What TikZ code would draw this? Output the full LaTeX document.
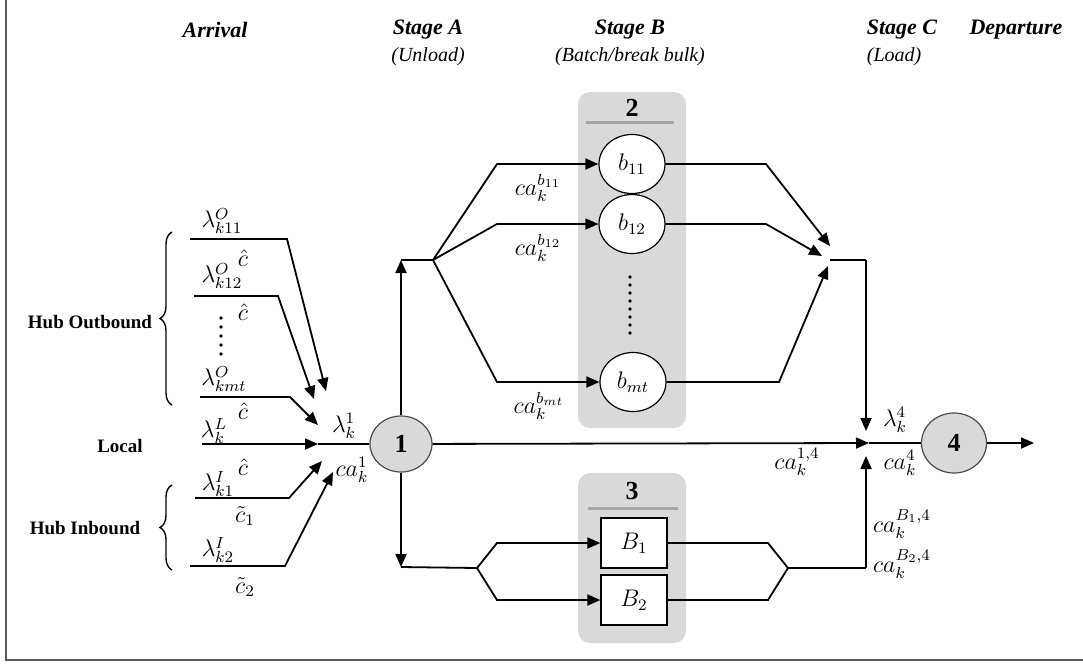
\documentclass[tikz,border=0pt]{standalone}
\usepackage{fontspec}
\setmainfont{Liberation Serif}
\usetikzlibrary{shapes.geometric,arrows.meta,decorations.pathreplacing}
\definecolor{boxgray}{RGB}{217,217,217}
\definecolor{rulegray}{RGB}{166,166,166}
\definecolor{framegray}{RGB}{90,90,90}

\begin{document}
\begin{tikzpicture}[x=0.5pt,y=-0.5pt,line width=0.9pt,
  >={Triangle[length=6.5pt,width=5.5pt]},
  stn/.style={ellipse,draw=black!70,line width=0.6pt,fill=boxgray,minimum width=31pt,
    minimum height=28pt,inner sep=0pt,font=\fontsize{13}{13}\selectfont\bfseries},
  sub/.style={ellipse,draw,line width=0.6pt,fill=white,minimum width=33pt,
    minimum height=29.5pt,inner sep=0pt,font=\large},
  bat/.style={rectangle,draw,line width=0.6pt,fill=white,minimum width=33pt,
    minimum height=25pt,inner sep=0pt,font=\large},
  lab/.style={inner sep=0pt,font=\large},
  head/.style={inner sep=0pt,font=\fontsize{11}{11}\selectfont\bfseries\itshape},
  subhead/.style={inner sep=0pt,font=\fontsize{10}{10}\selectfont\itshape},
  side/.style={inner sep=0pt,font=\fontsize{9.5}{10}\selectfont\bfseries},
  pan/.style={fill=boxgray,rounded corners=6pt},
  brc/.style={decorate,decoration={brace,amplitude=6pt},line width=0.7pt}]
\useasboundingbox (0,0) rectangle (1083,666);
% frame
\draw[framegray,line width=1pt] (6,0) -- (6,660) -- (1083,660);

% headings
\node[head] (harr) at (215,30) {Arrival};
\node[head] (hsa) at (428,30) {Stage A};
\node[subhead] (hsa2) at (428,57) {(Unload)};
\node[head] (hsb) at (630,30) {Stage B};
\node[subhead] (hsb2) at (630,57) {(Batch/break bulk)};
\node[head] (hsc) at (902,30) {Stage C};
\node[subhead,anchor=west] (hsc2) at (866,57) {(Load)};
\node[head] (hdep) at (1016,30) {Departure};

% panels
\fill[pan] (578,92) rectangle (686,428);
\fill[pan] (578,473) rectangle (686,643);
\node[font=\fontsize{13}{13}\selectfont\bfseries] (t2) at (632,108) {2};
\draw[rulegray,line width=1.5pt] (586,122) -- (674,122);
\node[font=\fontsize{13}{13}\selectfont\bfseries] (t3) at (632,491) {3};
\draw[rulegray,line width=1.5pt] (588,508) -- (678,508);
\foreach \yy in {277,285,...,335}
  \fill (630,\yy) circle (0.9pt);

% stations
\node[stn] (n1) at (401,444) {1};
\node[stn,minimum width=32.5pt,minimum height=30pt] (n4) at (954,443) {4};
\node[sub] (b11) at (632,164) {$b_{11}$};
\node[sub] (b12) at (632,224) {$b_{12}$};
\node[sub] (bmt) at (633,382) {$b_{mt}$};
\node[bat] (B1) at (634,543) {$B_1$};
\node[bat] (B2) at (634,600) {$B_2$};

% arrivals
\node[side] (hubo) at (90,322) {Hub Outbound};
\node[side] (loc) at (120,446) {Local};
\node[side] (hubi) at (85,528) {Hub Inbound};
\draw[brc] (172,405) -- (172,232);
\draw[brc] (172,570) -- (172,485);

\node[lab] (lo1) at (222,221) {$\lambda^{O}_{k11}$};
\node[lab] (ch1) at (243,258) {$\hat{c}$};
\node[lab] (lo2) at (222,276) {$\lambda^{O}_{k12}$};
\node[lab] (ch2) at (243,312) {$\hat{c}$};
\foreach \yy in {318,327,...,354}
  \fill (221,\yy) circle (0.9pt);
\node[lab] (lo3) at (224,379) {$\lambda^{O}_{kmt}$};
\node[lab] (ch3) at (243,411) {$\hat{c}$};
\node[lab] (ll) at (214,431) {$\lambda^{L}_{k}$};
\node[lab] (ch4) at (243,467) {$\hat{c}$};
\node[lab] (li1) at (218,484) {$\lambda^{I}_{k1}$};
\node[lab] (ct1) at (245,516) {$\tilde{c}_1$};
\node[lab] (li2) at (218,550) {$\lambda^{I}_{k2}$};
\node[lab] (ct2) at (245,587) {$\tilde{c}_2$};

\foreach \n/\sx/\y/\bx/\tx/\ty in {o1/190/239/287/326/391, o2/194/296/278/314/399,
    o3/200/397/290/318/425, i1/195/498/289/322/461, i2/190/566/285/333/472}{
  \coordinate (s\n) at (\sx,\y);
  \coordinate (t\n) at (\tx,\ty);
  \draw[->] (s\n) -- (\bx,\y) -- (t\n);
}
\coordinate (sl) at (202,444);
\coordinate (tl) at (318,444);
\draw[->] (sl) -- (tl);
\draw (tl) -- (n1);
\node[lab] (l1) at (344,426) {$\lambda^{1}_{k}$};
\node[lab] (ca1) at (352,470) {$ca^{1}_{k}$};

% stage A -> stage B
\coordinate (kb) at (497,0);
\coordinate (a1) at (401,260);
\coordinate (j1) at (433,260);
\draw[->] (n1) -- (a1);
\draw (a1) -- (j1);
\foreach \b in {b11,b12,bmt}
  \draw[->] (j1) -- (\b.west -| kb) -- (\b);
\node[lab] (cb11) at (538,188) {$ca^{b_{11}}_{k}$};
\node[lab] (cb12) at (538,248) {$ca^{b_{12}}_{k}$};
\node[lab] (cbmt) at (539,406) {$ca^{b_{mt}}_{k}$};

\coordinate (a3) at (401,567);
\coordinate (j3) at (477,568);
\draw[->] (n1) -- (a3);
\draw (a3) -- (j3);
\foreach \b in {B1,B2}
  \draw[->] (j3) -- (\b.west -| kb) -- (\b);

% stage B -> stage C
\coordinate (kr1) at (766,0);
\coordinate (kr2) at (779,0);
\coordinate (t11) at (830,246);
\coordinate (t12) at (822,256);
\coordinate (ttm) at (828,266);
\draw[->] (b11) -- (b11.east -| kr1) -- (t11);
\draw[->] (b12) -- (b12.east -| kr1) -- (t12);
\draw[->] (bmt) -- (bmt.east -| kr2) -- (ttm);
\coordinate (j2a) at (830,260);
\coordinate (j2) at (866,260);
\coordinate (c4) at (869,443);
\coordinate (c4t) at (866,431);
\coordinate (c4b) at (866,456);
\draw (j2a) -- (j2);
\draw[->] (j2) -- (c4t);

\coordinate (kr) at (768,0);
\coordinate (j4) at (788,568);
\coordinate (j5) at (866,568);
\foreach \b in {B1,B2}
  \draw (\b) -- (\b.east -| kr) -- (j4);
\draw (j4) -- (j5);
\draw[->] (j5) -- (c4b);

\draw[->] (n1) -- (c4);
\draw (c4) -- (n4);
\coordinate (out) at (1034,443);
\draw[->] (n4) -- (out);

\node[lab] (c14) at (797,462) {$ca^{1,4}_{k}$};
\node[lab] (l4) at (895,420) {$\lambda^{4}_{k}$};
\node[lab] (ca4) at (900,463) {$ca^{4}_{k}$};
\node[lab] (cB1) at (902,524) {$ca^{B_1,4}_{k}$};
\node[lab] (cB2) at (902,564) {$ca^{B_2,4}_{k}$};
\end{tikzpicture}
\end{document}
